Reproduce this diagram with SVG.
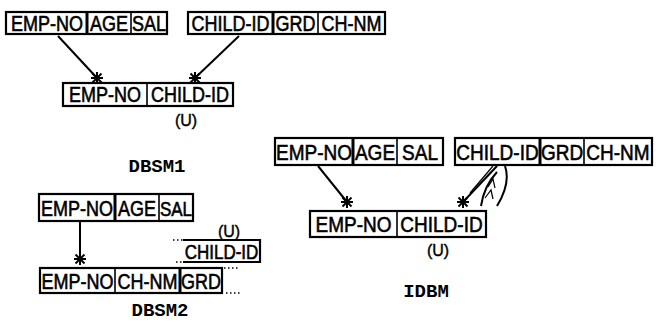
<svg xmlns="http://www.w3.org/2000/svg" width="656" height="322" viewBox="0 0 656 322">
<style>
  .box{fill:none;stroke:#000;stroke-width:2.2}
  .div{stroke:#000;stroke-width:1.6}
  .thick{stroke:#000;stroke-width:3}
  .t{font-family:"Liberation Sans",Arial,sans-serif;font-size:18px;fill:#000;stroke:#000;stroke-width:0.5;text-anchor:middle}
  .tb{font-size:19px}
  .ts{font-size:17px}
  .u{font-family:"Liberation Sans",Arial,sans-serif;font-size:16px;fill:#000;stroke:#000;stroke-width:0.4;text-anchor:middle}
  .lbl{font-family:"Liberation Mono","Courier New",monospace;font-size:19px;font-weight:bold;fill:#000;text-anchor:middle}
  .con{fill:none;stroke:#000;stroke-width:2}
  .dot{fill:none;stroke:#000;stroke-width:1.6;stroke-dasharray:1.5 2.5}
  .thin{fill:none;stroke:#000;stroke-width:1.2}
</style>
<defs>
  <marker id="star" viewBox="-7 -7 14 14" markerWidth="14" markerHeight="14" refX="0" refY="0" orient="0" markerUnits="userSpaceOnUse">
    <g stroke="#000" stroke-width="2">
      <line x1="0" y1="-6" x2="0" y2="6"/>
      <line x1="-6" y1="0" x2="6" y2="0"/>
      <line x1="-4.5" y1="-4.5" x2="4.5" y2="4.5"/>
      <line x1="-4.5" y1="4.5" x2="4.5" y2="-4.5"/>
    </g>
  </marker>
</defs>

<!-- DBSM1 -->
<g id="dbsm1-emp">
  <rect class="box" x="6" y="12" width="161" height="22"/>
  <line class="thick" x1="87" y1="12" x2="87" y2="34"/>
  <line class="div" x1="131" y1="12" x2="131" y2="34"/>
  <text class="t" transform="translate(47,31) scale(1,1.2)">EMP-NO</text>
  <text class="t" transform="translate(109,31) scale(1,1.2)">AGE</text>
  <text class="t" transform="translate(149,31) scale(1,1.2)">SAL</text>
</g>
<g id="dbsm1-child">
  <rect class="box" x="188" y="12" width="197" height="22"/>
  <line class="thick" x1="273" y1="12" x2="273" y2="34"/>
  <line class="div" x1="318" y1="12" x2="318" y2="34"/>
  <text class="t" transform="translate(230.5,31) scale(1,1.2)">CHILD-ID</text>
  <text class="t" transform="translate(295.5,31) scale(1,1.2)">GRD</text>
  <text class="t" transform="translate(351.5,31) scale(1,1.2)">CH-NM</text>
</g>
<g id="dbsm1-link">
  <rect class="box" x="63" y="83" width="170" height="23"/>
  <line class="div" x1="147" y1="83" x2="147" y2="106"/>
  <text class="t" transform="translate(105,102) scale(1,1.2)">EMP-NO</text>
  <text class="t" transform="translate(190,102) scale(1,1.2)">CHILD-ID</text>
  <text class="u" x="186" y="126">(U)</text>
</g>
<text class="lbl" x="157" y="172">DBSM1</text>

<!-- DBSM2 -->
<g id="dbsm2-emp">
  <rect class="box" x="39" y="194" width="154" height="27"/>
  <line class="thick" x1="115" y1="194" x2="115" y2="221"/>
  <line class="div" x1="159" y1="194" x2="159" y2="221"/>
  <text class="t" transform="translate(77,216) scale(1,1.2)">EMP-NO</text>
  <text class="t" transform="translate(137,216) scale(1,1.2)">AGE</text>
  <text class="t ts" transform="translate(176,216) scale(1,1.2)">SAL</text>
</g>
<g id="dbsm2-child">
  <path class="box" d="M183,240 H260 V262 H183"/>
  <path class="dot" d="M173,240 H183 M176,262 H183"/>
  <text class="t ts" transform="translate(221.5,259) scale(1,1.2)">CHILD-ID</text>
  <text class="u" x="229" y="237">(U)</text>
</g>
<g id="dbsm2-rec">
  <rect class="box" x="40" y="268" width="182" height="25"/>
  <line class="div" x1="115" y1="268" x2="115" y2="293"/>
  <line class="thick" x1="180" y1="268" x2="180" y2="293"/>
  <path class="dot" d="M224,268 H240 M226,293 H241"/>
  <text class="t" transform="translate(77.5,289) scale(1,1.2)">EMP-NO</text>
  <text class="t" transform="translate(147.5,289) scale(1,1.2)">CH-NM</text>
  <text class="t" transform="translate(201,289) scale(1,1.2)">GRD</text>
</g>
<text class="lbl" x="160" y="316">DBSM2</text>

<!-- IDBM -->
<g id="idbm-emp">
  <rect class="box" x="275" y="138" width="168" height="27"/>
  <line class="thick" x1="353" y1="138" x2="353" y2="165"/>
  <line class="div" x1="397" y1="138" x2="397" y2="165"/>
  <text class="t tb" transform="translate(314,160) scale(1,1.2)">EMP-NO</text>
  <text class="t tb" transform="translate(375,160) scale(1,1.2)">AGE</text>
  <text class="t tb" transform="translate(420,160) scale(1,1.2)">SAL</text>
</g>
<g id="idbm-child">
  <rect class="box" x="455" y="138" width="197" height="27"/>
  <line class="thick" x1="540" y1="138" x2="540" y2="165"/>
  <line class="div" x1="584" y1="138" x2="584" y2="165"/>
  <text class="t tb" transform="translate(497.5,160) scale(1,1.2)">CHILD-ID</text>
  <text class="t tb" transform="translate(562,160) scale(1,1.2)">GRD</text>
  <text class="t tb" transform="translate(618,160) scale(1,1.2)">CH-NM</text>
</g>
<g id="idbm-link">
  <rect class="box" x="310" y="211" width="176" height="26"/>
  <line class="div" x1="397" y1="211" x2="397" y2="237"/>
  <text class="t tb" transform="translate(353.5,232) scale(1,1.2)">EMP-NO</text>
  <text class="t tb" transform="translate(441.5,232) scale(1,1.2)">CHILD-ID</text>
  <text class="u" x="438" y="256">(U)</text>
</g>
<text class="lbl" x="426" y="297">IDBM</text>

<!-- connectors -->
<g id="connectors">
  <path class="con" d="M58,36 L97,78" marker-end="url(#star)"/>
  <path class="con" d="M239,36 L195,78" marker-end="url(#star)"/>
  <path class="con" d="M80,221 L80,259" marker-end="url(#star)"/>
  <path class="con" d="M318,166 L347,202" marker-end="url(#star)"/>
  <path class="con" d="M497,166 L463,202" marker-end="url(#star)"/>
  <path class="thin" d="M493,166 L470,193"/>
  <path class="con" d="M497,172 Q484,186 481,206"/>
  <path class="thin" d="M488,187 L493,179 L495,188 M485,198 L491,190 L493,199"/>
  <path class="con" d="M505,166 Q511,183 497,206"/>
</g>
</svg>
